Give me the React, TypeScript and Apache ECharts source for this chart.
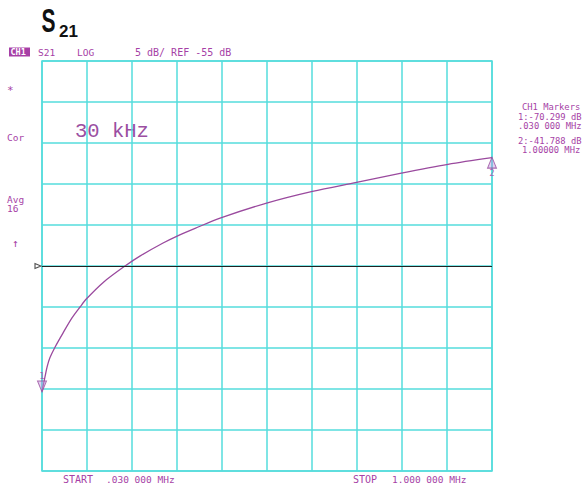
import React, { useEffect, useRef } from "react";
import * as echarts from "echarts";

// Trace: S21 magnitude (dB) vs frequency (MHz)
const freqMHz = [
  0.03, 0.0365, 0.041, 0.047, 0.058, 0.076, 0.095, 0.112, 0.126, 0.162, 0.209,
  0.241, 0.291, 0.327, 0.36, 0.417, 0.516, 0.613, 0.708, 0.802, 0.905, 1.0,
];
const s21dB = [
  -70.3, -68.5, -67.3, -66.2, -64.9, -63.1, -61.3, -60.0, -59.0, -57.0, -55.0,
  -53.8, -52.2, -51.2, -50.4, -49.1, -47.3, -45.9, -44.8, -43.7, -42.6, -41.79,
];
// Markers
const markerNames = ["1", "2"];
const markerFreq = [0.03, 1.0];
const markerDb = [-70.299, -41.788];
// Reference level
const refLevelDb = -55;
const yMin = -80;
const yMax = -30;
const yStep = 5;
const xStart = 0.03;
const xStop = 1.0;
const xDivisions = 10;

const markerLines = [
  "CH1 Markers",
  "1:-70.299 dB",
  ".030 000 MHz",
  "2:-41.788 dB",
  "1.00000 MHz",
];

const PURPLE = "#a63fa6";
const TRACE = "#9a4a9e";
const CYAN = "#55dcdc";
const MONO = '"DejaVu Sans Mono", "Liberation Mono", monospace';
const MONO2 = '"Liberation Mono", "DejaVu Sans Mono", monospace';

function txt(text: string, x: number, y: number, size: number, extra: any = {}) {
  return {
    type: "text",
    x,
    y,
    silent: true,
    style: {
      text,
      x: 0,
      y: 0,
      font: `${size}px ${MONO}`,
      fill: PURPLE,
      align: "left",
      verticalAlign: "middle",
      textAlign: "left",
      textVerticalAlign: "middle",
      ...extra,
    },
  };
}

export default function App() {
  const ref = useRef<HTMLDivElement>(null);
  useEffect(() => {
    document.body.style.margin = "0";
    const chart = echarts.init(ref.current!, null, { renderer: "svg" });
    const option: any = {
      animation: false,
      backgroundColor: "#ffffff",
      grid: {
        left: 42,
        right: 92,
        top: 61,
        bottom: 13,
        show: true,
        borderColor: CYAN,
        borderWidth: 1.5,
      },
      xAxis: [
        {
          type: "value",
          min: xStart,
          max: xStop,
          show: false,
        },
        {
          type: "value",
          min: 0,
          max: xDivisions,
          interval: 1,
          position: "bottom",
          axisLine: { show: false },
          axisTick: { show: false },
          axisLabel: { show: false },
          splitLine: { show: true, lineStyle: { color: CYAN, width: 1.5 } },
        },
      ],
      yAxis: {
        type: "value",
        min: yMin,
        max: yMax,
        interval: yStep,
        axisLine: { show: false },
        axisTick: { show: false },
        axisLabel: { show: false },
        splitLine: { show: true, lineStyle: { color: CYAN, width: 1.5 } },
      },
      series: [
        {
          type: "line",
          xAxisIndex: 0,
          data: freqMHz.map((f, i) => [f, s21dB[i]]),
          showSymbol: false,
          smooth: 0.3,
          lineStyle: { color: TRACE, width: 1.3 },
          markLine: {
            silent: true,
            symbol: ["none", "none"],
            label: { show: false },
            lineStyle: { color: "#222222", width: 1, type: "solid" },
            data: [{ yAxis: refLevelDb }],
          },
          z: 3,
        },
        {
          type: "scatter",
          xAxisIndex: 0,
          data: [
            {
              value: [markerFreq[0], markerDb[0]],
              name: markerNames[0],
              symbolRotate: 180,
              symbolOffset: [0, -5],
              label: { position: "top", offset: [0, 1] },
            },
            {
              value: [markerFreq[1], markerDb[1]],
              name: markerNames[1],
              symbolRotate: 0,
              symbolOffset: [0, 5],
              label: { position: "bottom", offset: [0, -1] },
            },
          ],
          symbol: "triangle",
          symbolSize: [9, 11],
          itemStyle: {
            color: "rgba(190,150,220,0.55)",
            borderColor: TRACE,
            borderWidth: 1,
          },
          label: {
            show: true,
            formatter: (p: any) => p.name,
            color: PURPLE,
            fontSize: 9,
            fontFamily: MONO,
            distance: 1,
          },
          z: 4,
        },
        {
          type: "scatter",
          xAxisIndex: 0,
          data: [[xStart, refLevelDb]],
          symbol: "triangle",
          symbolRotate: -90,
          symbolSize: [5, 6],
          symbolOffset: [-4, 0],
          itemStyle: { color: "#ffffff", borderColor: "#222222", borderWidth: 1 },
          z: 4,
        },
      ],
      graphic: [
        {
          type: "text",
          x: 48.5,
          y: 20.5,
          scaleY: 1.55,
          silent: true,
          style: {
            text: "S",
            x: 0,
            y: 0,
            font: 'bold 21px "Liberation Sans", Arial, sans-serif',
            fill: "#111111",
            align: "center",
            verticalAlign: "middle",
            textAlign: "center",
            textVerticalAlign: "middle",
          },
        },
        {
          type: "text",
          x: 59,
          y: 31,
          silent: true,
          style: {
            text: "21",
            x: 0,
            y: 0,
            font: 'bold 17px "Liberation Sans", Arial, sans-serif',
            fill: "#111111",
            align: "left",
            verticalAlign: "middle",
            textAlign: "left",
            textVerticalAlign: "middle",
          },
        },
        {
          type: "rect",
          silent: true,
          shape: { x: 9, y: 47.5, width: 21, height: 9 },
          style: { fill: PURPLE },
        },
        txt("CH1", 10.5, 52.2, 8.5, { fill: "#ffffff", font: `bold 8.5px ${MONO}` }),
        txt("S21", 38, 52.2, 9.5),
        txt("LOG", 77, 52.2, 9.5),
        txt("5 dB/ REF -55 dB", 135, 52.2, 10),
        txt("*", 7, 90, 11),
        txt("Cor", 7, 137, 9.5),
        txt("Avg", 7, 199, 9.5),
        txt("16", 7, 208.5, 9.5),
        txt("\u2191", 12, 243, 11),
        txt("30 kHz", 75, 131, 20.5, { fill: "#9b4fa2", font: `20.5px ${MONO2}` }),
        txt(markerLines[0], 522, 107, 8.8),
        txt(markerLines[1], 518, 117, 8.8),
        txt(markerLines[2], 518, 126, 8.8),
        txt(markerLines[3], 518, 141, 8.8),
        txt(markerLines[4], 522, 150, 8.8),
        txt("START", 63, 479, 10),
        txt(".030 000 MHz", 106, 479, 9.5),
        txt("STOP", 353, 479, 10),
        txt("1.000 000 MHz", 392, 479, 9.5),
      ],
    };
    chart.setOption(option);
    return () => chart.dispose();
  }, []);
  return <div ref={ref} style={{ width: 584, height: 484 }} />;
}
